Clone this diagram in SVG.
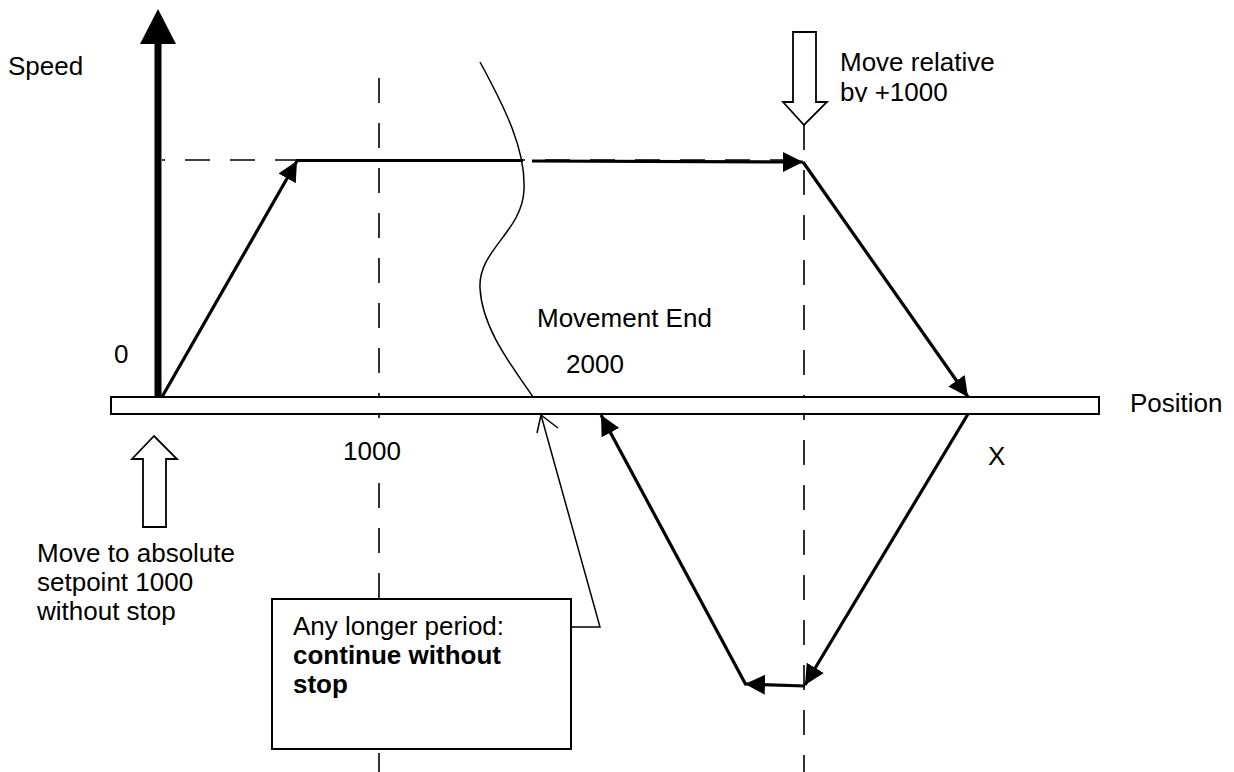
<svg xmlns="http://www.w3.org/2000/svg" width="1234" height="772" viewBox="0 0 1234 772">
  <style>
    text { font-family: "Liberation Sans", Arial, sans-serif; font-size: 26px; fill: #000; }
    .bold { font-weight: bold; }
    .dash { fill: none; stroke: #000; stroke-width: 1.6; stroke-dasharray: 25 20; }
    .path { fill: none; stroke: #000; stroke-width: 3.2; }
    .thin { fill: none; stroke: #000; stroke-width: 1.5; }
    .hollow { fill: #fff; stroke: #000; stroke-width: 1.8; }
  </style>
  <defs>
    <marker id="head" markerUnits="userSpaceOnUse" markerWidth="22" markerHeight="22" refX="20" refY="10" orient="auto" viewBox="0 0 22 20">
      <path d="M0,0 L20,10 L0,20 Z" fill="#000"/>
    </marker>
    <clipPath id="clipRel">
      <rect x="830" y="40" width="220" height="62"/>
    </clipPath>
  </defs>

  <!-- dashed guide lines -->
  <g id="guides">
    <line class="dash" x1="162" y1="160" x2="800" y2="160" stroke-dashoffset="22"/>
    <line class="dash" x1="379" y1="78" x2="379" y2="772"/>
    <line class="dash" x1="804" y1="125" x2="804" y2="772"/>
  </g>

  <!-- position axis bar -->
  <g id="position-axis">
    <rect x="111" y="397" width="988" height="17" fill="#fff" stroke="#000" stroke-width="2"/>
    <text x="1130" y="412">Position</text>
  </g>

  <!-- speed axis -->
  <g id="speed-axis">
    <line x1="158" y1="42" x2="158" y2="397" stroke="#000" stroke-width="7"/>
    <path d="M158,9 L140,44 L176,44 Z" fill="#000"/>
    <text x="8" y="75">Speed</text>
    <text x="114" y="363">0</text>
  </g>

  <!-- break mark across the plateau -->
  <g id="break">
    <path class="thin" d="M480,62 C505,108 526,150 524,190 C522,232 478,250 480,288 C482,330 515,370 533,397"/>
  </g>

  <!-- motion profile -->
  <g id="connectors">
    <line class="path" x1="162" y1="397" x2="297" y2="161" marker-end="url(#head)"/>
    <line class="path" x1="296" y1="160.5" x2="523" y2="160.5" stroke-width="2.6"/>
    <line class="path" x1="532" y1="161" x2="803" y2="162" marker-end="url(#head)"/>
    <line class="path" x1="803" y1="162" x2="968" y2="397" marker-end="url(#head)"/>
    <line class="path" x1="968" y1="414" x2="805" y2="685" marker-end="url(#head)"/>
    <line class="path" x1="805" y1="686" x2="745" y2="684" marker-end="url(#head)"/>
    <line class="path" x1="746" y1="685" x2="601" y2="415" marker-end="url(#head)"/>
    <!-- callout leader -->
    <polyline class="thin" points="571,627 600,627 541,415"/>
    <polyline class="thin" points="537,433 541,415 558,428"/>
  </g>

  <!-- command arrows -->
  <g id="move-relative">
    <path class="hollow" d="M793,32 L816,32 L816,102 L827,102 L804,125 L783,102 L793,102 Z"/>
    <g clip-path="url(#clipRel)">
      <text x="840" y="71">Move relative</text>
      <text x="840" y="101">by +1000</text>
    </g>
  </g>

  <g id="move-absolute">
    <path class="hollow" d="M154,436 L177,459 L166,459 L166,527 L143,527 L143,459 L132,459 Z"/>
    <text x="37" y="562">Move to absolute</text>
    <text x="37" y="591">setpoint 1000</text>
    <text x="37" y="620">without stop</text>
  </g>

  <!-- labels -->
  <g id="labels">
    <rect x="340" y="430" width="64" height="36" fill="#fff"/>
    <text x="343" y="460">1000</text>
    <text x="537" y="327">Movement End</text>
    <text x="566" y="373">2000</text>
    <text x="988" y="465">X</text>
  </g>

  <!-- note box -->
  <g id="note">
    <rect x="272" y="599" width="299" height="150" fill="#fff" stroke="#000" stroke-width="2"/>
    <text x="293" y="635">Any longer period:</text>
    <text class="bold" x="293" y="664">continue without</text>
    <text class="bold" x="293" y="693">stop</text>
  </g>
</svg>
